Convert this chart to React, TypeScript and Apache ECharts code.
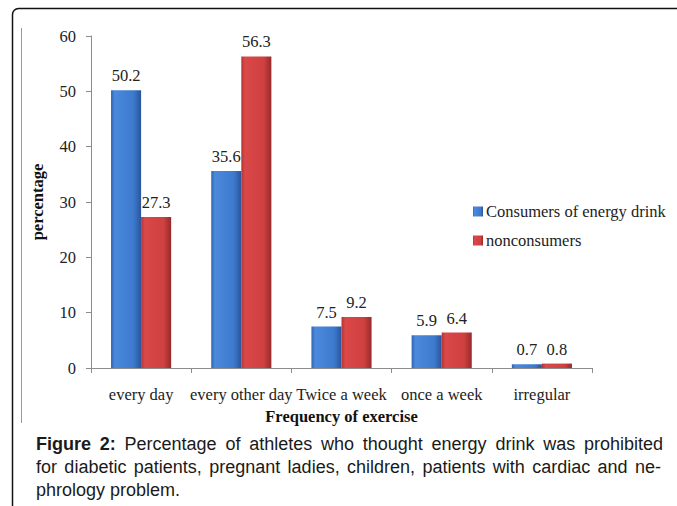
import React, { useEffect, useRef } from "react";
import * as echarts from "echarts";

const categories = ["every day", "every other day", "Twice a week", "once a week", "irregular"];
const consumers = [50.2, 35.6, 7.5, 5.9, 0.7];
const nonconsumers = [27.3, 56.3, 9.2, 6.4, 0.8];
const seriesNames = ["Consumers of energy drink", "nonconsumers"];
const yTicks = { min: 0, max: 60, interval: 10 };
const captionLines = [
  "Figure 2: Percentage of athletes who thought energy drink was prohibited",
  "for diabetic patients, pregnant ladies, children, patients with cardiac and ne-",
  "phrology problem.",
];

const SERIF = "'Liberation Serif', 'Times New Roman', serif";
const SANS = "'Liberation Sans', Arial, sans-serif";

function grad(stops: [number, string][]) {
  return new echarts.graphic.LinearGradient(
    0, 0, 1, 0,
    stops.map(([offset, color]) => ({ offset, color }))
  );
}

export default function App() {
  const ref = useRef<HTMLDivElement>(null);
  useEffect(() => {
    document.body.style.margin = "0";
    const chart = echarts.init(ref.current!, null, { renderer: "svg" });

    const canvas = document.createElement("canvas");
    const ctx = canvas.getContext("2d")!;
    const fontSize = 18;
    const measure = (t: string, bold: boolean) => {
      ctx.font = `${bold ? "bold " : ""}${fontSize}px ${SANS}`;
      return ctx.measureText(t).width;
    };
    const capX0 = 36;
    const lineEnds = [663, 661, null];
    const lineYs = [444, 467, 490];
    const captionEls: any[] = [];
    captionLines.forEach((line, li) => {
      const words = line.split(" ");
      const bolds = words.map((w, wi) => li === 0 && wi < 2);
      const widths = words.map((w, wi) => measure(w, bolds[wi]));
      const total = widths.reduce((a, b) => a + b, 0);
      const end = lineEnds[li];
      const space = measure(" ", false);
      const gap = end != null && words.length > 1 ? (end - capX0 - total) / (words.length - 1) : space;
      let x = capX0;
      words.forEach((w, wi) => {
        captionEls.push({
          type: "text",
          x,
          y: lineYs[li],
          style: {
            text: w,
            fill: "#1a1a1a",
            font: `${bolds[wi] ? "bold " : ""}${fontSize}px ${SANS}`,
            verticalAlign: "middle",
            align: "left",
          },
        });
        x += widths[wi] + gap;
      });
    });

    const blue = grad([
      [0, "#2f63b0"],
      [0.12, "#4a89dc"],
      [0.75, "#3d7ace"],
      [1, "#29549a"],
    ]);
    const red = grad([
      [0, "#b53434"],
      [0.12, "#da4848"],
      [0.75, "#cf4040"],
      [1, "#962a2a"],
    ]);

    const labelStyle = {
      show: true,
      position: "top" as const,
      distance: 6,
      fontFamily: SERIF,
      fontSize: 16.5,
      color: "#222",
    };

    chart.setOption({
      animation: false,
      backgroundColor: "#fff",
      grid: { left: 91, right: 85, top: 36, bottom: 138, containLabel: false },
      legend: {
        orient: "vertical",
        left: 473,
        top: 203,
        itemWidth: 10,
        itemHeight: 10,
        itemGap: 12,
        padding: 0,
        icon: "rect",
        textStyle: { fontFamily: SERIF, fontSize: 16.5, color: "#222", padding: [0, 0, 0, -2] },
        data: seriesNames,
      },
      xAxis: {
        type: "category",
        data: categories,
        name: "Frequency of exercise",
        nameLocation: "middle",
        nameGap: 37,
        nameTextStyle: { fontFamily: SERIF, fontSize: 16.5, fontWeight: "bold", color: "#111" },
        axisLine: { lineStyle: { color: "#8c8c8c", width: 1 } },
        axisTick: { show: true, length: 5, lineStyle: { color: "#8c8c8c" } },
        axisLabel: { fontFamily: SERIF, fontSize: 16.5, color: "#222", margin: 18, interval: 0 },
      },
      yAxis: {
        type: "value",
        min: yTicks.min,
        max: yTicks.max,
        interval: yTicks.interval,
        name: "percentage",
        nameLocation: "middle",
        nameGap: 45,
        nameRotate: 90,
        nameTextStyle: { fontFamily: SERIF, fontSize: 16.5, fontWeight: "bold", color: "#111" },
        axisLine: { show: true, lineStyle: { color: "#8c8c8c", width: 1 } },
        axisTick: { show: true, length: 5, inside: false, lineStyle: { color: "#8c8c8c" } },
        axisLabel: { fontFamily: SERIF, fontSize: 16.5, color: "#222", margin: 15 },
        splitLine: { show: false },
      },
      series: [
        {
          name: seriesNames[0],
          type: "bar",
          data: consumers,
          barGap: "0%",
          barCategoryGap: "40%",
          itemStyle: { color: blue },
          label: labelStyle,
        },
        {
          name: seriesNames[1],
          type: "bar",
          data: nonconsumers,
          barGap: "0%",
          barCategoryGap: "40%",
          itemStyle: { color: red },
          label: labelStyle,
        },
      ],
      graphic: [
        {
          type: "rect",
          shape: { x: 12.5, y: 8.5, width: 720, height: 600, r: 6 },
          style: { fill: "none", stroke: "#111", lineWidth: 1.5 },
          silent: true,
        },
        {
          type: "line",
          shape: { x1: 21.5, y1: 28, x2: 21.5, y2: 423 },
          style: { stroke: "#9a9a9a", lineWidth: 1 },
          silent: true,
        },
        ...captionEls,
      ],
    });
    return () => chart.dispose();
  }, []);
  return <div ref={ref} style={{ width: 677, height: 506 }} />;
}
